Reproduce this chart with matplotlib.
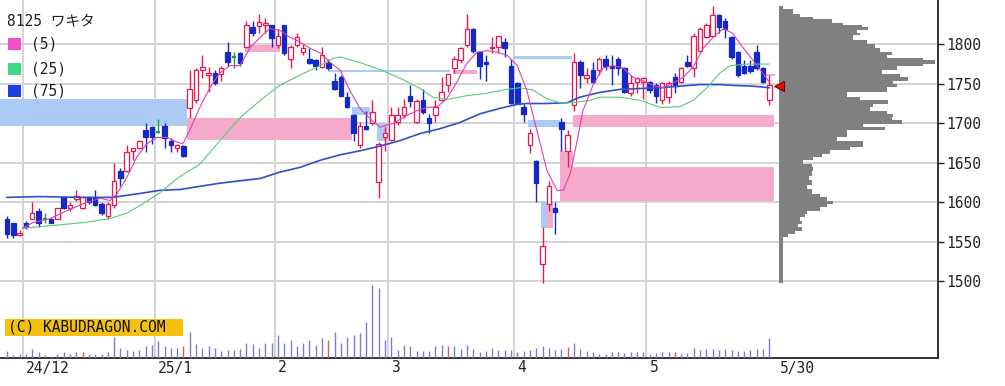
import matplotlib
matplotlib.use("Agg")
import matplotlib.pyplot as plt
from matplotlib.patches import Rectangle

# ---------------- data ----------------
TITLE = "8125 ワキタ"
MA_LABELS = ["(5)", "(25)", "(75)"]
MONTH_LABELS = ["24/12", "25/1", "2", "3", "4", "5"]
MONTH_START = [3, 24, 43, 61, 81, 102]      # index of first trading day of each month
LAST_LABEL = "5/30"
YTICKS = [1500, 1550, 1600, 1650, 1700, 1750, 1800]
COPYRIGHT = "(C) KABUDRAGON.COM"
LAST_PRICE = 1747

OPEN = [1579, 1573, 1558, 1574, 1579, 1589, 1579, 1579, 1579, 1606, 1592, 1604, 1592, 1607, 1607, 1598, 1583, 1596, 1640, 1640,
        1665, 1668, 1691, 1695, 1689, 1697, 1678, 1668, 1671, 1719, 1729, 1767, 1761, 1764, 1763, 1790, 1784, 1789, 1796, 1822,
        1823, 1824, 1824, 1799, 1824, 1782, 1799, 1790, 1781, 1780, 1771, 1776, 1754, 1759, 1733, 1710, 1672, 1697, 1700, 1625,
        1682, 1679, 1701, 1710, 1734, 1702, 1729, 1706, 1710, 1729, 1748, 1770, 1780, 1799, 1820, 1790, 1778, 1795, 1796, 1803,
        1772, 1751, 1720, 1673, 1652, 1522, 1598, 1593, 1701, 1665, 1723, 1777, 1757, 1767, 1767, 1781, 1773, 1781, 1770, 1738,
        1752, 1752, 1752, 1748, 1729, 1733, 1759, 1752, 1777, 1770, 1792, 1809, 1811, 1837, 1830, 1809, 1790, 1772, 1772, 1790,
        1770, 1730]
HIGH = [1582, 1574, 1565, 1576, 1600, 1593, 1586, 1580, 1593, 1607, 1600, 1615, 1607, 1608, 1615, 1600, 1600, 1649, 1643, 1672,
        1669, 1679, 1700, 1697, 1705, 1700, 1681, 1674, 1673, 1767, 1770, 1786, 1771, 1767, 1773, 1803, 1790, 1790, 1830, 1830,
        1839, 1833, 1825, 1820, 1825, 1799, 1814, 1801, 1795, 1782, 1796, 1782, 1764, 1761, 1739, 1712, 1701, 1716, 1729, 1676,
        1695, 1720, 1721, 1731, 1748, 1731, 1743, 1712, 1729, 1758, 1763, 1785, 1796, 1838, 1821, 1792, 1786, 1809, 1811, 1808,
        1782, 1752, 1724, 1693, 1654, 1568, 1627, 1600, 1706, 1691, 1789, 1780, 1770, 1777, 1784, 1786, 1786, 1784, 1771, 1761,
        1758, 1759, 1754, 1751, 1752, 1754, 1764, 1771, 1787, 1814, 1822, 1827, 1848, 1839, 1833, 1811, 1792, 1780, 1780, 1799,
        1771, 1761]
LOW = [1554, 1555, 1557, 1566, 1579, 1569, 1574, 1573, 1578, 1591, 1589, 1602, 1591, 1598, 1595, 1584, 1579, 1593, 1621, 1638,
       1653, 1667, 1663, 1674, 1688, 1669, 1663, 1663, 1657, 1706, 1726, 1757, 1739, 1748, 1754, 1773, 1770, 1773, 1795, 1811,
       1814, 1814, 1796, 1795, 1787, 1770, 1796, 1786, 1775, 1767, 1770, 1767, 1742, 1734, 1719, 1678, 1669, 1692, 1698, 1605,
       1665, 1678, 1698, 1707, 1720, 1700, 1712, 1687, 1701, 1728, 1739, 1764, 1776, 1796, 1789, 1756, 1753, 1789, 1789, 1784,
       1725, 1724, 1701, 1662, 1600, 1497, 1589, 1560, 1665, 1644, 1716, 1745, 1751, 1751, 1761, 1767, 1748, 1761, 1738, 1735,
       1738, 1731, 1738, 1726, 1725, 1726, 1738, 1751, 1771, 1758, 1790, 1808, 1809, 1814, 1808, 1782, 1759, 1763, 1764, 1767,
       1751, 1723]
CLOSE = [1560, 1558, 1561, 1568, 1586, 1573, 1579, 1574, 1592, 1592, 1596, 1608, 1606, 1600, 1596, 1586, 1598, 1627, 1630, 1663,
         1669, 1678, 1682, 1682, 1689, 1681, 1672, 1672, 1659, 1744, 1767, 1771, 1764, 1751, 1770, 1777, 1784, 1776, 1824, 1815,
         1828, 1827, 1808, 1810, 1789, 1796, 1809, 1795, 1776, 1773, 1786, 1770, 1744, 1735, 1720, 1688, 1697, 1693, 1714, 1674,
         1687, 1710, 1710, 1720, 1728, 1728, 1714, 1700, 1720, 1739, 1762, 1782, 1795, 1820, 1792, 1772, 1775, 1797, 1810, 1795,
         1726, 1725, 1712, 1688, 1624, 1544, 1620, 1587, 1693, 1685, 1777, 1761, 1761, 1752, 1781, 1773, 1770, 1770, 1739, 1751,
         1757, 1757, 1742, 1735, 1751, 1751, 1748, 1770, 1773, 1811, 1820, 1824, 1837, 1822, 1820, 1784, 1761, 1764, 1766, 1770,
         1752, 1748]

# volume (relative units, 10 = 1 px in the reference)
VOLUME = [73, 33, 43, 43, 90, 57, 33, 23, 43, 57, 43, 57, 60, 43, 43, 43, 60, 210, 100, 77,
          67, 77, 123, 133, 167, 117, 100, 100, 123, 260, 140, 100, 117, 100, 73, 83, 83, 90, 150, 143,
          100, 150, 150, 233, 150, 183, 123, 150, 183, 133, 200, 183, 260, 150, 210, 227, 250, 357, 733, 700,
          183, 210, 83, 133, 117, 73, 67, 73, 117, 133, 117, 117, 90, 133, 90, 60, 73, 100, 83, 77,
          83, 57, 67, 77, 100, 117, 100, 83, 93, 107, 150, 90, 67, 57, 43, 43, 57, 57, 50, 60,
          57, 60, 43, 50, 57, 57, 57, 43, 50, 100, 83, 93, 93, 83, 90, 77, 67, 67, 83, 90,
          90, 200]
VOLUME_RED_DAYS = [12, 28, 51, 70, 89, 106]

MA5_X = [2.5, 4.1, 6.8, 9.5, 12.1, 14.8, 16.3, 17.5, 19.0, 20.6, 22.2, 23.8, 25.4, 27.0, 27.9, 29.0, 30.6, 32.2, 33.8, 35.4,
         37.0, 38.6, 40.2, 41.7, 43.3, 44.9, 46.5, 48.1, 49.7, 51.3, 52.9, 54.4, 56.0, 57.6, 59.2, 61.3, 63.5, 65.1, 66.7, 68.3,
         69.8, 71.4, 73.0, 74.6, 76.2, 77.8, 79.4, 81.0, 82.5, 84.1, 85.7, 87.3, 88.3, 89.4, 90.5, 91.4, 92.1, 93.0, 94.6, 96.2,
         97.8, 99.4, 100.9, 102.5, 104.1, 105.7, 107.3, 108.9, 110.5, 112.1, 113.7, 115.2, 116.8, 118.4, 120.0, 121.0]
MA5_Y = [1567, 1574, 1579, 1589, 1598, 1605, 1602, 1611, 1631, 1657, 1674, 1682, 1682, 1676, 1674, 1691, 1720, 1745, 1764, 1773,
         1773, 1796, 1809, 1820, 1818, 1809, 1803, 1795, 1789, 1777, 1767, 1742, 1719, 1706, 1695, 1700, 1710, 1716, 1720, 1721,
         1731, 1752, 1776, 1790, 1792, 1790, 1786, 1773, 1742, 1691, 1640, 1615, 1615, 1636, 1678, 1716, 1729, 1748, 1770, 1773,
         1770, 1758, 1754, 1748, 1745, 1751, 1758, 1771, 1795, 1809, 1820, 1814, 1796, 1780, 1763, 1752]
MA25_X = [2.5, 6.8, 12.1, 16.3, 19.0, 21.6, 24.3, 27.0, 30.6, 33.8, 37.0, 40.2, 43.3, 46.5, 49.7, 51.7, 52.9, 56.0, 59.2, 62.4,
          65.6, 67.6, 69.8, 73.0, 76.2, 79.4, 81.4, 83.5, 85.7, 87.8, 89.8, 92.5, 94.1, 97.3, 100.5, 103.7, 106.8, 108.9, 111.1,
          113.2, 114.8, 117.5, 121.0]
MA25_Y = [1567, 1570, 1574, 1579, 1586, 1598, 1612, 1630, 1648, 1678, 1707, 1729, 1748, 1761, 1773, 1782, 1784, 1777, 1768, 1757,
          1744, 1733, 1730, 1735, 1738, 1743, 1745, 1742, 1731, 1726, 1726, 1729, 1733, 1733, 1729, 1720, 1721, 1729, 1745,
          1764, 1773, 1775, 1775]
MA75_X = [0, 5.2, 12.1, 16.8, 21.1, 24.3, 27.5, 30.6, 33.8, 40.2, 43.3, 46.5, 49.7, 52.9, 56.0, 59.2, 62.4, 65.6, 68.7, 71.9,
          75.1, 78.3, 81.0, 82.5, 85.7, 88.9, 90.9, 94.1, 97.3, 100.5, 103.7, 106.8, 110.0, 113.2, 115.2, 118.4, 121.0]
MA75_Y = [1606, 1607, 1606, 1606, 1611, 1615, 1616, 1620, 1624, 1630, 1638, 1644, 1653, 1660, 1665, 1671, 1678, 1687, 1693, 1701,
          1712, 1719, 1724, 1725, 1725, 1726, 1733, 1739, 1743, 1744, 1745, 1747, 1749, 1749, 1748, 1747, 1745]

# price gaps (窓): start index, end index, low, high, kind
GAP_X0 = [-1.2, 28.6, 37.8, 51.0, 54.7, 58.7, 70.8, 80.3, 82.7, 89.8, 87.8, 87.8, 84.8, 85.7, 120.3]
GAP_X1 = [28.6, 54.8, 43.3, 70.3, 57.6, 60.5, 74.6, 89.7, 87.8, 121.7, 121.7, 89.8, 85.7, 86.7, 121.9]
GAP_LO = [1697, 1679, 1790, 1765, 1710, 1678, 1763, 1781, 1695, 1695, 1602, 1644, 1567, 1567, 1760]
GAP_HI = [1731, 1706, 1799, 1768, 1720, 1700, 1767, 1785, 1704, 1710, 1644, 1665, 1602, 1602, 1762]
GAP_KIND = ["down", "up", "up", "down", "down", "down", "up", "down", "down", "up", "up", "up", "down", "up", "up"]

# volume-at-price profile
PROFILE_PRICE = [1848, 1841, 1837, 1833, 1830, 1825, 1824, 1820, 1816, 1814, 1809, 1803, 1799, 1792, 1788, 1784, 1782, 1778,
                 1773, 1771, 1765, 1761, 1756, 1752, 1748, 1744, 1735, 1731, 1727, 1723, 1718, 1714, 1710, 1706, 1701, 1697,
                 1693, 1689, 1685, 1680, 1676, 1672, 1668, 1663, 1659, 1655, 1651, 1646, 1642, 1636, 1630, 1625, 1619, 1613,
                 1608, 1604, 1600, 1596, 1591, 1587, 1583, 1579, 1574, 1570, 1566, 1562, 1558, 1553]
PROFILE_VOL = [4, 14, 21, 34, 53, 64, 83, 89, 78, 81, 74, 88, 96, 101, 113, 108, 144, 156, 144, 118, 103, 121, 129, 114, 118,
               108, 68, 81, 109, 94, 91, 108, 114, 113, 123, 84, 106, 68, 68, 58, 84, 84, 71, 51, 43, 34, 24, 33, 34, 33, 30,
               33, 28, 33, 41, 48, 54, 48, 41, 28, 26, 21, 23, 19, 23, 16, 9, 4]
PROFILE_LOW = 1497

# ---------------- style ----------------
W, H = 1005, 386
RED = "#e8184c"
BLUE = "#1428c8"
GREEN = "#1f9a3c"
MA_COLORS = ["#e040b4", "#55cc7a", "#3050c8"]
LEGEND_COLORS = ["#f050c8", "#40d880", "#2040e0"]
GAP_COLORS = {"down": "#abcbf5", "up": "#f5aacb"}
GRID = "#d4d4d4"
MONO = ["DejaVu Sans Mono", "Noto Sans CJK JP"]
FS = 10.5
PX = 6.3            # pixels per trading day
XLIM = (-7 / PX, (938 - 7) / PX)
YLIM = (1402.4, 1856.2)
PROFILE_LEFT = (779 - 7) / PX

fig = plt.figure(figsize=(W / 100, H / 100), dpi=100)
fig.patch.set_facecolor("white")
ax = fig.add_axes([0, 28 / H, 938 / W, 358 / H])
ax.set_xlim(*XLIM)
ax.set_ylim(*YLIM)
ax.set_facecolor("white")

# volume on twin axis (created first so that the price axis keeps its right-hand ticks)
ax2 = ax.twinx()
ax2.set_ylim(0, 3580)
ax2.set_xlim(*XLIM)
ax2.axis("off")
vx = list(range(len(VOLUME)))
vcol = ["#c86060" if i in VOLUME_RED_DAYS else "#7b7bd0" for i in vx]
ax2.vlines(vx, 0, VOLUME, colors=vcol, lw=1.0)

# grid
for yv in YTICKS:
    ax.axhline(yv, color=GRID, lw=1.4, zorder=0.5)
for ms in MONTH_START:
    ax.axvline(ms - 0.5, color=GRID, lw=1.4, zorder=0.5)

# gaps
for x0, x1, lo, hi, k in zip(GAP_X0, GAP_X1, GAP_LO, GAP_HI, GAP_KIND):
    ax.add_patch(Rectangle((x0, lo), x1 - x0, hi - lo, facecolor=GAP_COLORS[k], edgecolor="none", zorder=1))

# candles
BW = 0.7
for i, (o, h, l, c) in enumerate(zip(OPEN, HIGH, LOW, CLOSE)):
    if c > o:
        col, face = RED, "white"
    elif c < o:
        col, face = BLUE, BLUE
    else:
        col, face = GREEN, GREEN
    ax.vlines(i, l, h, color=col, lw=1.0, zorder=3)
    if c == o:
        ax.hlines(o, i - BW / 2, i + BW / 2, color=col, lw=1.6, zorder=4)
    else:
        lo_b = min(o, c)
        hb = max(abs(c - o), 1.5)
        ax.add_patch(Rectangle((i - BW / 2, lo_b), BW, hb, facecolor=face, edgecolor=col, lw=0.9, zorder=4))

# moving averages
ax.plot(MA75_X, MA75_Y, color=MA_COLORS[2], lw=1.2, zorder=5)
ax.plot(MA25_X, MA25_Y, color=MA_COLORS[1], lw=0.8, zorder=5)
ax.plot(MA5_X, MA5_Y, color=MA_COLORS[0], lw=0.8, zorder=5)

# volume profile
pw = [PROFILE_LEFT + v / PX for v in PROFILE_VOL]
ax.fill_betweenx(PROFILE_PRICE, PROFILE_LEFT, pw, step="mid", color="#808080", lw=0, zorder=2)
ax.fill_betweenx([PROFILE_LOW, PROFILE_PRICE[-1]], PROFILE_LEFT, PROFILE_LEFT + 3.8 / PX,
                 color="#808080", lw=0, zorder=2)

# current price marker
ax.plot([PROFILE_LEFT], [LAST_PRICE], marker="<", ms=7.5, mfc="#e01010", mec="#700000", mew=0.8, zorder=6)

# axes styling
for s in ["top", "left"]:
    ax.spines[s].set_visible(False)
for s in ["bottom", "right"]:
    ax.spines[s].set_color("#333333")
    ax.spines[s].set_linewidth(1.4)
ax.yaxis.tick_right()
ax.yaxis.set_label_position("right")
ax.set_yticks(YTICKS)
ax.set_yticklabels([str(v) for v in YTICKS], family=MONO, fontsize=FS, color="#222222")
ax.tick_params(axis="y", which="both", left=False, labelleft=False, right=True, labelright=True,
               direction="out", length=4, width=1, pad=2, colors="#222222")
ax.set_xticks([])
for lab, ms in zip(MONTH_LABELS, MONTH_START):
    ax.text(ms - 0.5 + 3 / PX, -10 / 358, lab, transform=ax.get_xaxis_transform(), ha="left", va="center",
            family=MONO, fontsize=FS, color="#222222")
ax.text((780 - 7) / PX, -10 / 358, LAST_LABEL, transform=ax.get_xaxis_transform(), ha="left", va="center",
        family=MONO, fontsize=FS, color="#222222")

# legend / title (pixel positions)
def fx(px):
    return px / W

def fy(py):
    return 1 - py / H

fig.text(fx(7), fy(21), TITLE, family=MONO, fontsize=FS, color="#222222", va="center", ha="left")
for k, (lab, cy) in enumerate(zip(MA_LABELS, [44, 69, 91])):
    fig.add_artist(Rectangle((fx(8), fy(cy + 6)), 12.5 / W, 12 / H, transform=fig.transFigure,
                             facecolor=LEGEND_COLORS[k], edgecolor="none", zorder=5))
    fig.text(fx(31), fy(cy), lab, family=MONO, fontsize=FS, color="#222222", va="center", ha="left", zorder=6)

# copyright box
fig.add_artist(Rectangle((fx(5), fy(336)), 178 / W, 17 / H, transform=fig.transFigure,
                         facecolor="#f4c20d", edgecolor="none", zorder=5))
fig.text(fx(8), fy(327.5), COPYRIGHT, family=MONO, fontsize=FS, color="#111111", va="center", ha="left", zorder=6)

fig.savefig("out.png", dpi=100)
